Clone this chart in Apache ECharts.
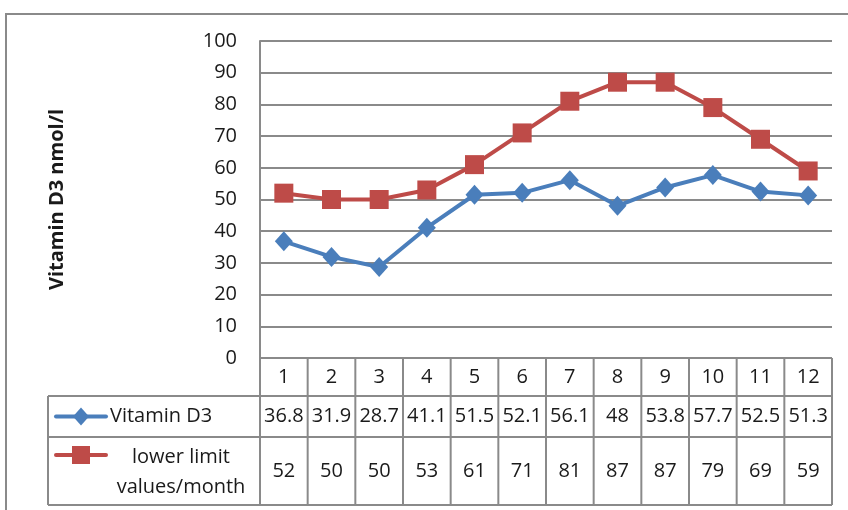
<!DOCTYPE html>
<html>
<head>
<meta charset="utf-8">
<script src="https://cdn.jsdelivr.net/npm/echarts@6/dist/echarts.min.js"></script>
<style>
  html, body { margin: 0; padding: 0; background: #fff; }
  #chart { width: 848px; height: 510px; }
</style>
</head>
<body>
<div id="chart"></div>
<script>
// Monthly vitamin D3 levels against the lower limit values per month
const months = ['1', '2', '3', '4', '5', '6', '7', '8', '9', '10', '11', '12'];
const vitaminD3 = [36.8, 31.9, 28.7, 41.1, 51.5, 52.1, 56.1, 48, 53.8, 57.7, 52.5, 51.3];
const lowerLimit = [52, 50, 50, 53, 61, 71, 81, 87, 87, 79, 69, 59];
const seriesNames = ['Vitamin D3', 'lower limit\nvalues/month'];
const yTicks = [0, 10, 20, 30, 40, 50, 60, 70, 80, 90, 100];

const BLUE = '#4A7EBB';
const RED = '#BE4B48';
const GRID = '#8a8a8a';
const FONT = 'Open Sans';

const chart = echarts.init(document.getElementById('chart'), null, { renderer: 'canvas' });

chart.setOption({
  animation: false,
  backgroundColor: '#fff',
  grid: { left: 260, right: 16, top: 41, bottom: 152, containLabel: false },
  xAxis: {
    type: 'category',
    data: months,
    boundaryGap: true,
    axisLine: { show: false },
    axisTick: { show: false },
    axisLabel: { show: false }
  },
  yAxis: {
    type: 'value',
    min: yTicks[0],
    max: yTicks[yTicks.length - 1],
    interval: 10,
    name: 'Vitamin D3 nmol/l',
    nameLocation: 'middle',
    nameGap: 193,
    nameRotate: 90,
    nameTextStyle: { fontFamily: FONT, fontSize: 20, fontWeight: 'bold', color: '#1a1a1a' },
    axisLine: { show: true, lineStyle: { color: GRID, width: 2 } },
    axisTick: { show: false },
    axisLabel: { margin: 23, fontFamily: FONT, fontSize: 20, color: '#1a1a1a' },
    splitLine: { show: true, lineStyle: { color: GRID, width: 2 } }
  },
  series: [
    {
      name: 'Vitamin D3',
      type: 'line',
      data: vitaminD3,
      symbol: 'diamond',
      symbolSize: [18, 20],
      lineStyle: { color: BLUE, width: 4 },
      itemStyle: { color: BLUE },
      z: 3
    },
    {
      name: 'lower limit values/month',
      type: 'line',
      data: lowerLimit,
      symbol: 'rect',
      symbolSize: 19,
      lineStyle: { color: RED, width: 4 },
      itemStyle: { color: RED },
      z: 4
    }
  ]
});

// Data table underneath the plot, aligned with the category bands
function buildTable() {
  const xs = months.map((m, i) => chart.convertToPixel({ xAxisIndex: 0 }, i));
  const band = xs[1] - xs[0];
  const left = xs[0] - band / 2;
  const right = xs[xs.length - 1] + band / 2;
  const yAxisLine = chart.convertToPixel({ yAxisIndex: 0 }, 0);
  const rowTops = [yAxisLine, yAxisLine + 38, yAxisLine + 79, yAxisLine + 147];
  const tableLeft = 48;
  const els = [];
  const line = (x1, y1, x2, y2) => els.push({
    type: 'line', shape: { x1, y1, x2, y2 },
    style: { stroke: GRID, lineWidth: 2 }, silent: true
  });
  const text = (x, y, t, align) => els.push({
    type: 'text', x, y,
    style: { text: t, fill: '#1a1a1a', font: '20px "' + FONT + '"', align: align || 'center', verticalAlign: 'middle', lineHeight: 30 },
    silent: true
  });

  // horizontal rules
  line(left, rowTops[0], right, rowTops[0]);
  line(tableLeft, rowTops[1], right, rowTops[1]);
  line(tableLeft, rowTops[2], right, rowTops[2]);
  line(tableLeft, rowTops[3], right, rowTops[3]);
  // vertical rules
  line(tableLeft, rowTops[1], tableLeft, rowTops[3]);
  for (let i = 0; i <= months.length; i++) {
    const x = left + band * i;
    line(x, rowTops[0], x, rowTops[3]);
  }

  const mid = r => (rowTops[r] + rowTops[r + 1]) / 2;
  months.forEach((m, i) => {
    text(xs[i], mid(0), m);
    text(xs[i], mid(1), String(vitaminD3[i]));
    text(xs[i], mid(2), String(lowerLimit[i]));
  });

  // row headers with series keys
  const keyX1 = 56, keyX2 = 106, keyMid = 81;
  const y1 = mid(1);
  els.push({ type: 'line', shape: { x1: keyX1, y1: y1, x2: keyX2, y2: y1 },
    style: { stroke: BLUE, lineWidth: 4, lineCap: 'round' }, silent: true });
  els.push({ type: 'polygon', shape: { points: [[keyMid, y1 - 9], [keyMid + 8, y1], [keyMid, y1 + 9], [keyMid - 8, y1]] },
    style: { fill: BLUE }, silent: true });
  text(110, y1, seriesNames[0], 'left');

  const y2 = rowTops[2] + 18;
  els.push({ type: 'line', shape: { x1: keyX1, y1: y2, x2: keyX2, y2: y2 },
    style: { stroke: RED, lineWidth: 4, lineCap: 'round' }, silent: true });
  els.push({ type: 'rect', shape: { x: keyMid - 9, y: y2 - 9, width: 18, height: 18 },
    style: { fill: RED }, silent: true });
  text(181, mid(2) + 1, seriesNames[1], 'center');

  // chart frame
  els.push({ type: 'rect', shape: { x: 6, y: 14, width: 900, height: 600 },
    style: { fill: null, stroke: GRID, lineWidth: 2 }, silent: true });

  chart.setOption({ graphic: { elements: els } });
}
buildTable();
</script>
</body>
</html>
